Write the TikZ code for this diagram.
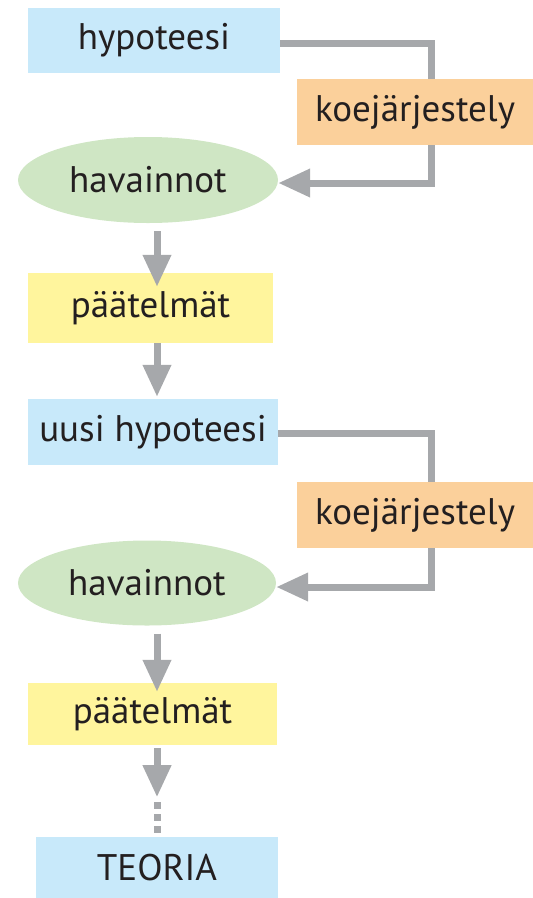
\documentclass[tikz,border=0pt]{standalone}
\usepackage{fontspec}
\setmainfont{PT Sans}
\usetikzlibrary{shapes.geometric,arrows.meta}
\definecolor{cblue}{HTML}{C8E9FA}
\definecolor{corange}{HTML}{FBD09B}
\definecolor{cgreen}{HTML}{CFE6C4}
\definecolor{cyellow}{HTML}{FFF59D}
\definecolor{cgray}{HTML}{A6A8AB}
\definecolor{ctext}{HTML}{231F20}
\tikzset{
  box/.style={rectangle, inner sep=0pt, text=ctext, font=\fontsize{37}{42}\selectfont},
  ell/.style={ellipse, inner sep=0pt, fill=cgreen, text=ctext, font=\fontsize{37}{42}\selectfont},
  conn/.style={draw=cgray, line width=7pt},
  arr/.style={conn, -{Triangle[length=32pt,width=27pt]}},
}
\begin{document}
\begin{tikzpicture}[x=1pt,y=-1pt]
\useasboundingbox (0,0) rectangle (533,898);
\coordinate (cx) at (431,0);
\coordinate (ax) at (157,0);
\node[box, fill=cblue, minimum width=252pt, minimum height=65pt] (h1) at (154,40.5) {hypoteesi};
\node[box, fill=corange, minimum width=236pt, minimum height=66pt] (k1) at (415,112) {koejärjestely};
\node[ell, minimum width=260pt, minimum height=86pt] (v1) at (148,180) {havainnot};
\node[box, fill=cyellow, minimum width=245pt, minimum height=70pt] (p1) at (150.5,308) {päätelmät};
\node[box, fill=cblue, minimum width=250pt, minimum height=66pt] (u) at (153,432) {uusi hypoteesi};
\node[box, fill=corange, minimum width=236pt, minimum height=66pt] (k2) at (415,515) {koejärjestely};
\node[ell, minimum width=258pt, minimum height=85pt] (v2) at (147,583) {havainnot};
\node[box, fill=cyellow, minimum width=249pt, minimum height=62pt] (p2) at (152.5,714) {päätelmät};
\node[box, fill=cblue, minimum width=242pt, minimum height=62pt] (t) at (157,868) {TEORIA};
% loops
\draw[conn] ([yshift=-2.5pt]h1.east) -| (k1.north -| cx);
\draw[arr] (k1.south -| cx) |- ([yshift=-3pt]v1.east);
\draw[conn] ([yshift=-1pt]u.east) -| (k2.north -| cx);
\draw[arr] (k2.south -| cx) |- ([yshift=-4pt]v2.east);
% vertical arrows
\draw[arr, shorten <=8pt, shorten >=-14pt] (v1.south -| ax) -- (p1.north -| ax);
\draw[arr, shorten >=2pt] (p1.south -| ax) -- (u.north -| ax);
\draw[arr, shorten <=8pt, shorten >=-9pt] (v2.south -| ax) -- (p2.north -| ax);
\coordinate (d0) at ([yshift=-52pt]p2.south -| ax);
\draw[arr, shorten <=3pt] (p2.south -| ax) -- (d0);
\draw[conn, dash pattern=on 7pt off 5pt] ([yshift=-5pt]d0) -- (t.north -| ax);
\end{tikzpicture}
\end{document}
